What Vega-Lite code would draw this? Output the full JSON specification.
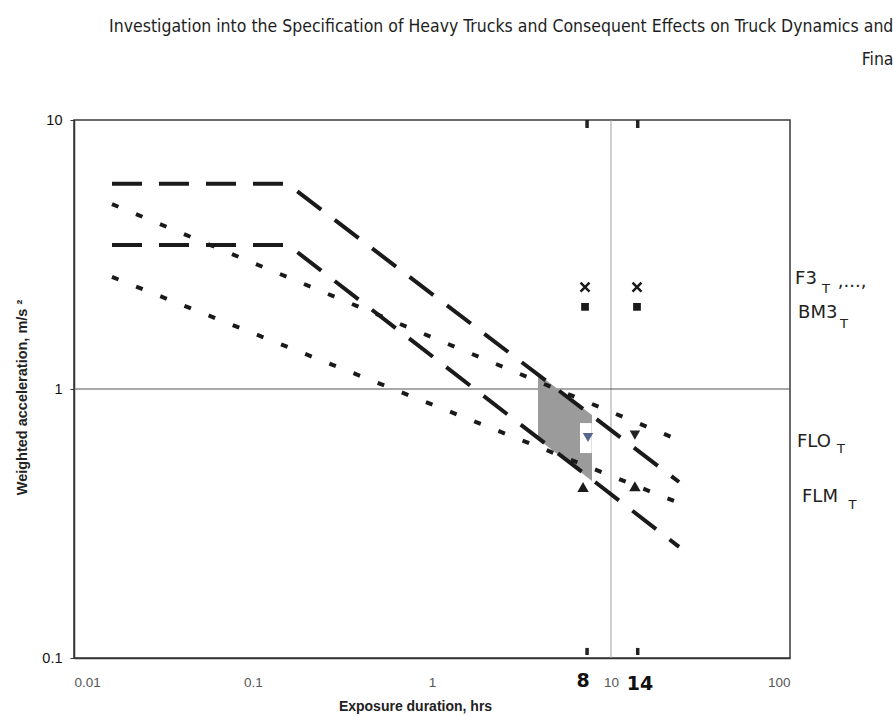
{
  "$schema": "https://vega.github.io/schema/vega-lite/v6.json",
  "width": 716,
  "height": 538,
  "autosize": {"type": "none"},
  "padding": {"left": 74, "top": 120, "right": 103, "bottom": 59},
  "background": "white",
  "config": {
    "view": {"stroke": "#3a3a3a", "strokeWidth": 1.5},
    "font": "Liberation Sans"
  },
  "title": {
    "text": ["Investigation into the Specification of Heavy Trucks and Consequent Effects on Truck Dynamics and Drivers", "Final Report"],
    "anchor": "end",
    "align": "right",
    "frame": "group",
    "dx": 165,
    "font": "Liberation Sans Narrow, DejaVu Sans Condensed, Roboto Condensed, sans-serif",
    "fontSize": 17.5,
    "fontWeight": "normal",
    "color": "#1e1e1e",
    "lineHeight": 33,
    "offset": 44
  },
  "datasets": {
    "lines": [
      {"s": "A", "st": "dash", "x": 0.0163, "y": 5.8},
      {"s": "A", "st": "dash", "x": 0.155, "y": 5.8},
      {"s": "A", "st": "dash", "x": 24, "y": 0.451},
      {"s": "B", "st": "dash", "x": 0.0163, "y": 3.43},
      {"s": "B", "st": "dash", "x": 0.157, "y": 3.43},
      {"s": "B", "st": "dash", "x": 24, "y": 0.259},
      {"s": "C", "st": "dot", "x": 0.0163, "y": 4.87},
      {"s": "C", "st": "dot", "x": 24, "y": 0.645},
      {"s": "D", "st": "dot", "x": 0.0163, "y": 2.61},
      {"s": "D", "st": "dot", "x": 24, "y": 0.377}
    ],
    "zone": [
      {"x": 3.91, "y": 1.137, "y2": 0.652},
      {"x": 7.83, "y": 0.80, "y2": 0.455}
    ],
    "gap": [
      {"x": 6.71, "x2": 7.8, "y": 0.747, "y2": 0.578}
    ],
    "vgrid": [{"x": 10}],
    "hgrid": [{"y": 1}],
    "crosses": [{"x": 7.16, "y": 2.39}, {"x": 13.97, "y": 2.39}],
    "squares": [{"x": 7.16, "y": 2.02}, {"x": 13.97, "y": 2.02}],
    "tridown": [{"x": 7.44, "y": 0.66, "c": "blue"}, {"x": 13.6, "y": 0.674, "c": "dark"}],
    "triup": [{"x": 6.98, "y": 0.432}, {"x": 13.6, "y": 0.435}],
    "handticks": [
      {"x": 7.35, "y": 10, "y2": 9.34},
      {"x": 14.1, "y": 10, "y2": 9.34},
      {"x": 7.35, "y": 0.109, "y2": 0.1026},
      {"x": 14.1, "y": 0.109, "y2": 0.1026}
    ],
    "notes": [
      {"t": "F3", "x": 106.7, "y": 2.56, "k": "main"},
      {"t": "T", "x": 151, "y": 2.36, "k": "sub"},
      {"t": ",...,", "x": 185, "y": 2.5, "k": "main"},
      {"t": "BM3", "x": 110.9, "y": 1.92, "k": "main"},
      {"t": "T", "x": 190, "y": 1.745, "k": "sub"},
      {"t": "FLO", "x": 109.4, "y": 0.635, "k": "main"},
      {"t": "T", "x": 183, "y": 0.598, "k": "sub"},
      {"t": "FLM", "x": 116.7, "y": 0.397, "k": "main"},
      {"t": "T", "x": 212, "y": 0.371, "k": "sub"}
    ],
    "hours": [
      {"t": "8", "x": 6.98, "y": 0.0821},
      {"t": "14", "x": 14.5, "y": 0.080}
    ]
  },
  "layer": [
    {
      "data": {"name": "vgrid"},
      "mark": {"type": "rule", "color": "#a0a0a0", "strokeWidth": 1},
      "encoding": {
        "x": {
          "field": "x", "type": "quantitative",
          "scale": {"type": "log", "domain": [0.01, 100], "nice": false},
          "axis": {
            "values": [0.01, 0.1, 1, 10, 100],
            "format": "~g",
            "ticks": false,
            "grid": false,
            "labelPadding": 17,
            "labelFontSize": 13.5,
            "labelColor": "#555555",
            "labelFont": "Liberation Sans",
            "domainColor": "#333333",
            "domainWidth": 1.5,
            "title": "Exposure duration, hrs",
            "titleFont": "Liberation Sans",
            "titleFontSize": 14,
            "titleFontWeight": "bold",
            "titleColor": "#222222",
            "titleX": 341,
            "titleY": 48,
            "titleBaseline": "middle",
            "titleAlign": "center"
          }
        }
      }
    },
    {
      "data": {"name": "hgrid"},
      "mark": {"type": "rule", "color": "#555555", "strokeWidth": 1.2},
      "encoding": {
        "y": {
          "field": "y", "type": "quantitative",
          "scale": {"type": "log", "domain": [0.1, 10], "nice": false},
          "axis": {
            "values": [0.1, 1, 10],
            "format": "~g",
            "ticks": true,
            "tickSize": 4,
            "tickColor": "#333333",
            "grid": false,
            "labelPadding": 8,
            "labelFontSize": 14.5,
            "labelColor": "#111111",
            "labelFont": "Liberation Sans",
            "domainColor": "#333333",
            "domainWidth": 1.5,
            "title": "Weighted acceleration, m/s ²",
            "titleFont": "Liberation Sans",
            "titleFontSize": 14.5,
            "titleFontWeight": "bold",
            "titleColor": "#222222",
            "titleAngle": -90,
            "titleX": -52,
            "titleY": 277,
            "titleBaseline": "middle",
            "titleAlign": "center"
          }
        }
      }
    },
    {
      "data": {"name": "zone"},
      "mark": {"type": "area", "color": "#9b9b9b", "opacity": 1},
      "encoding": {
        "x": {"field": "x", "type": "quantitative", "scale": {"type": "log", "domain": [0.01, 100], "nice": false}},
        "y": {"field": "y", "type": "quantitative", "scale": {"type": "log", "domain": [0.1, 10], "nice": false}},
        "y2": {"field": "y2"}
      }
    },
    {
      "data": {"name": "gap"},
      "mark": {"type": "rect", "color": "white"},
      "encoding": {
        "x": {"field": "x", "type": "quantitative", "scale": {"type": "log", "domain": [0.01, 100], "nice": false}},
        "x2": {"field": "x2"},
        "y": {"field": "y", "type": "quantitative", "scale": {"type": "log", "domain": [0.1, 10], "nice": false}},
        "y2": {"field": "y2"}
      }
    },
    {
      "data": {"name": "lines"},
      "mark": {"type": "line", "color": "#1a1a1a", "strokeWidth": 4, "strokeCap": "butt"},
      "encoding": {
        "x": {"field": "x", "type": "quantitative", "scale": {"type": "log", "domain": [0.01, 100], "nice": false}},
        "y": {"field": "y", "type": "quantitative", "scale": {"type": "log", "domain": [0.1, 10], "nice": false}},
        "detail": {"field": "s", "type": "nominal"},
        "strokeDash": {
          "field": "st", "type": "nominal",
          "scale": {"domain": ["dash", "dot"], "range": [[30, 17], [7, 19]]},
          "legend": null
        }
      }
    },
    {
      "data": {"name": "handticks"},
      "mark": {"type": "rule", "color": "#222222", "strokeWidth": 3.5},
      "encoding": {
        "x": {"field": "x", "type": "quantitative", "scale": {"type": "log", "domain": [0.01, 100], "nice": false}},
        "y": {"field": "y", "type": "quantitative", "scale": {"type": "log", "domain": [0.1, 10], "nice": false}},
        "y2": {"field": "y2"}
      }
    },
    {
      "data": {"name": "crosses"},
      "mark": {"type": "point", "shape": "M-1,-1L1,1M-1,1L1,-1", "filled": false, "stroke": "#1a1a1a", "strokeWidth": 2.5, "size": 80, "opacity": 1},
      "encoding": {
        "x": {"field": "x", "type": "quantitative", "scale": {"type": "log", "domain": [0.01, 100], "nice": false}},
        "y": {"field": "y", "type": "quantitative", "scale": {"type": "log", "domain": [0.1, 10], "nice": false}}
      }
    },
    {
      "data": {"name": "squares"},
      "mark": {"type": "point", "shape": "square", "filled": true, "color": "#1a1a1a", "size": 60, "opacity": 1},
      "encoding": {
        "x": {"field": "x", "type": "quantitative", "scale": {"type": "log", "domain": [0.01, 100], "nice": false}},
        "y": {"field": "y", "type": "quantitative", "scale": {"type": "log", "domain": [0.1, 10], "nice": false}}
      }
    },
    {
      "data": {"name": "tridown"},
      "mark": {"type": "point", "shape": "triangle-down", "filled": true, "size": 110, "opacity": 1},
      "encoding": {
        "x": {"field": "x", "type": "quantitative", "scale": {"type": "log", "domain": [0.01, 100], "nice": false}},
        "y": {"field": "y", "type": "quantitative", "scale": {"type": "log", "domain": [0.1, 10], "nice": false}},
        "color": {"field": "c", "type": "nominal", "scale": {"domain": ["blue", "dark"], "range": ["#56678f", "#222222"]}, "legend": null}
      }
    },
    {
      "data": {"name": "triup"},
      "mark": {"type": "point", "shape": "triangle-up", "filled": true, "color": "#1a1a1a", "size": 130, "opacity": 1},
      "encoding": {
        "x": {"field": "x", "type": "quantitative", "scale": {"type": "log", "domain": [0.01, 100], "nice": false}},
        "y": {"field": "y", "type": "quantitative", "scale": {"type": "log", "domain": [0.1, 10], "nice": false}}
      }
    },
    {
      "data": {"name": "notes"},
      "transform": [{"filter": "datum.k === 'main'"}],
      "mark": {"type": "text", "align": "left", "baseline": "middle", "font": "DejaVu Sans", "fontSize": 18, "fontWeight": "normal", "color": "#222222"},
      "encoding": {
        "x": {"field": "x", "type": "quantitative", "scale": {"type": "log", "domain": [0.01, 100], "nice": false}},
        "y": {"field": "y", "type": "quantitative", "scale": {"type": "log", "domain": [0.1, 10], "nice": false}},
        "text": {"field": "t"}
      }
    },
    {
      "data": {"name": "notes"},
      "transform": [{"filter": "datum.k === 'sub'"}],
      "mark": {"type": "text", "align": "left", "baseline": "middle", "font": "DejaVu Sans", "fontSize": 13, "fontWeight": "normal", "color": "#222222"},
      "encoding": {
        "x": {"field": "x", "type": "quantitative", "scale": {"type": "log", "domain": [0.01, 100], "nice": false}},
        "y": {"field": "y", "type": "quantitative", "scale": {"type": "log", "domain": [0.1, 10], "nice": false}},
        "text": {"field": "t"}
      }
    },
    {
      "data": {"name": "hours"},
      "mark": {"type": "text", "align": "center", "baseline": "middle", "font": "DejaVu Sans", "fontSize": 19, "fontWeight": "bold", "color": "#111111"},
      "encoding": {
        "x": {"field": "x", "type": "quantitative", "scale": {"type": "log", "domain": [0.01, 100], "nice": false}},
        "y": {"field": "y", "type": "quantitative", "scale": {"type": "log", "domain": [0.1, 10], "nice": false}},
        "text": {"field": "t"}
      }
    }
  ]
}
